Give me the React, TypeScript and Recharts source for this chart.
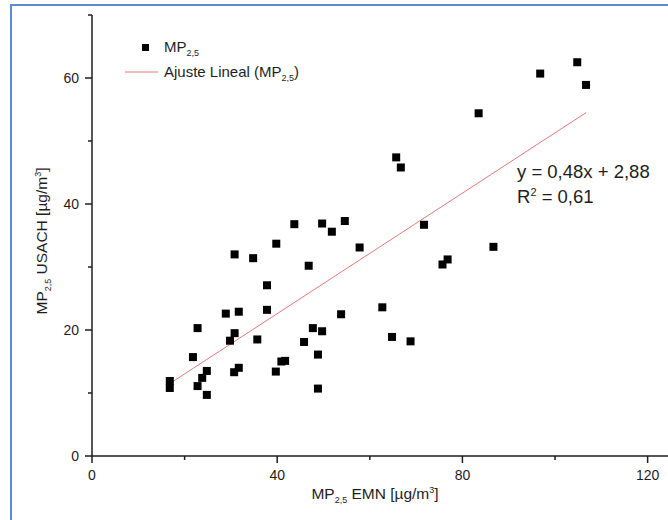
import { ScatterChart, Scatter, XAxis, YAxis, Legend } from "recharts";

// MP2,5 EMN (x) vs MP2,5 USACH (y)
const emnValues = [
  16.8, 16.8, 21.8, 22.8, 22.8, 23.8, 24.8, 24.8, 28.9, 29.8, 30.8, 30.8,
  30.7, 31.7, 31.7, 34.8, 35.7, 37.8, 37.8, 39.8, 39.7, 40.9, 41.7, 43.7,
  45.8, 46.8, 47.7, 48.8, 48.8, 49.7, 49.7, 51.8, 53.8, 54.6, 57.8, 62.7,
  64.8, 65.7, 66.7, 68.8, 71.7, 75.7, 76.8, 83.5, 86.7, 96.8, 104.8, 106.7,
];
const usachValues = [
  11.9, 10.8, 15.7, 20.3, 11.1, 12.4, 13.5, 9.7, 22.6, 18.3, 32.0, 19.5,
  13.3, 22.9, 14.0, 31.4, 18.5, 27.1, 23.2, 33.7, 13.4, 15.0, 15.1, 36.8,
  18.1, 30.2, 20.3, 16.1, 10.7, 36.9, 19.8, 35.6, 22.5, 37.3, 33.1, 23.6,
  18.9, 47.4, 45.8, 18.2, 36.7, 30.4, 31.2, 54.4, 33.2, 60.7, 62.5, 58.9,
];

// linear fit end points
const fitX = [16.8, 106.7];
const fitY = [11.5, 54.5];

const xTicks = [0, 20, 40, 60, 80, 100, 120];
const xLabels = [0, 40, 80, 120];
const yTicks = [0, 10, 20, 30, 40, 50, 60, 70];
const yLabels = [0, 20, 40, 60];

const points = emnValues.map((x, i) => ({ x, y: usachValues[i] }));
const fitLine = fitX.map((x, i) => ({ x, y: fitY[i] }));

const FONT = '"Liberation Sans", Arial, sans-serif';
const INK = "#1e1e1e";
const RED = "#e27a7a";

function XTick(props: any) {
  const { x, y, payload } = props;
  const major = xLabels.includes(payload.value);
  return (
    <g>
      <line x1={x} x2={x} y1={y} y2={y + (major ? 7 : 4)} stroke={INK} strokeWidth={1.5} />
      {major && (
        <text x={x} y={y + 24} textAnchor="middle" fontSize={14} fill={INK} fontFamily={FONT}>
          {payload.value}
        </text>
      )}
    </g>
  );
}

function YTick(props: any) {
  const { x, y, payload } = props;
  const major = yLabels.includes(payload.value);
  return (
    <g>
      <line x1={x} x2={x - (major ? 7 : 4)} y1={y} y2={y} stroke={INK} strokeWidth={1.5} />
      {major && (
        <text x={x - 13} y={y + 5} textAnchor="end" fontSize={14} fill={INK} fontFamily={FONT}>
          {payload.value}
        </text>
      )}
    </g>
  );
}

function Square(props: any) {
  const { cx, cy } = props;
  return <rect x={cx - 4} y={cy - 4} width={8} height={8} fill="#000" />;
}

function LegendBox() {
  return (
    <svg width={240} height={50} style={{ display: "block", fontFamily: FONT }}>
      <rect x={19} y={9} width={7} height={7} fill="#000" />
      <text x={41} y={17} fontSize={15} fill={INK}>
        MP<tspan fontSize={9} dy={4}>2,5</tspan>
      </text>
      <line x1={2} x2={35} y1={37} y2={37} stroke={RED} strokeWidth={1} />
      <text x={41} y={42} fontSize={15} fill={INK}>
        Ajuste Lineal (MP<tspan fontSize={9} dy={4}>2,5</tspan>
        <tspan dy={-4}>)</tspan>
      </text>
    </svg>
  );
}

export default function App() {
  return (
    <div
      style={{
        position: "absolute",
        left: 0,
        top: 0,
        width: 668,
        height: 520,
        overflow: "hidden",
        background: "#fff",
      }}
    >
      <div
        style={{
          position: "absolute",
          left: 10,
          top: 4,
          width: 720,
          height: 600,
          border: "2px solid #5b8bd0",
        }}
      />
      <div style={{ position: "absolute", left: 0, top: 0 }}>
        <ScatterChart width={668} height={520} margin={{ top: 15, right: 0, bottom: 34, left: 32 }}>
          <XAxis
            type="number"
            dataKey="x"
            domain={[0, 124.4]}
            ticks={xTicks}
            interval={0}
            tickSize={0}
            tickMargin={0}
            tickLine={false}
            tick={<XTick />}
            height={30}
            axisLine={{ stroke: INK, strokeWidth: 1.5 }}
            allowDataOverflow
          />
          <YAxis
            type="number"
            dataKey="y"
            domain={[0, 70]}
            ticks={yTicks}
            interval={0}
            tickSize={0}
            tickMargin={0}
            tickLine={false}
            tick={<YTick />}
            width={60}
            axisLine={{ stroke: INK, strokeWidth: 1.5 }}
            allowDataOverflow
          />
          <Legend
            layout="vertical"
            align="center"
            verticalAlign="middle"
            wrapperStyle={{ left: 123, top: 35, width: 240 }}
            content={() => <LegendBox />}
          />
          <Scatter
            data={fitLine}
            line={{ stroke: RED, strokeWidth: 1 }}
            shape={() => null}
            isAnimationActive={false}
            legendType="none"
          />
          <Scatter data={points} shape={<Square />} fill="#000" isAnimationActive={false} />
        </ScatterChart>
      </div>
      <svg
        width={668}
        height={520}
        style={{ position: "absolute", left: 0, top: 0, pointerEvents: "none", fontFamily: FONT }}
      >
        <text x={375} y={499} textAnchor="middle" fontSize={15.5} fill={INK}>
          MP<tspan fontSize={9} dy={4}>2,5</tspan>
          <tspan dy={-4}> EMN [µg/m</tspan>
          <tspan fontSize={9} dy={-6}>3</tspan>
          <tspan dy={6}>]</tspan>
        </text>
        <text
          x={47}
          y={241}
          textAnchor="middle"
          fontSize={15.5}
          fill={INK}
          transform="rotate(-90, 47, 241)"
        >
          MP<tspan fontSize={9} dy={4}>2,5</tspan>
          <tspan dy={-4}> USACH [µg/m</tspan>
          <tspan fontSize={9} dy={-6}>3</tspan>
          <tspan dy={6}>]</tspan>
        </text>
        <text x={517} y={178} fontSize={18.5} fill={INK}>
          y = 0,48x + 2,88
        </text>
        <text x={517} y={203} fontSize={18.5} fill={INK}>
          R<tspan fontSize={11} dy={-7}>2</tspan>
          <tspan dy={7}> = 0,61</tspan>
        </text>
      </svg>
    </div>
  );
}
